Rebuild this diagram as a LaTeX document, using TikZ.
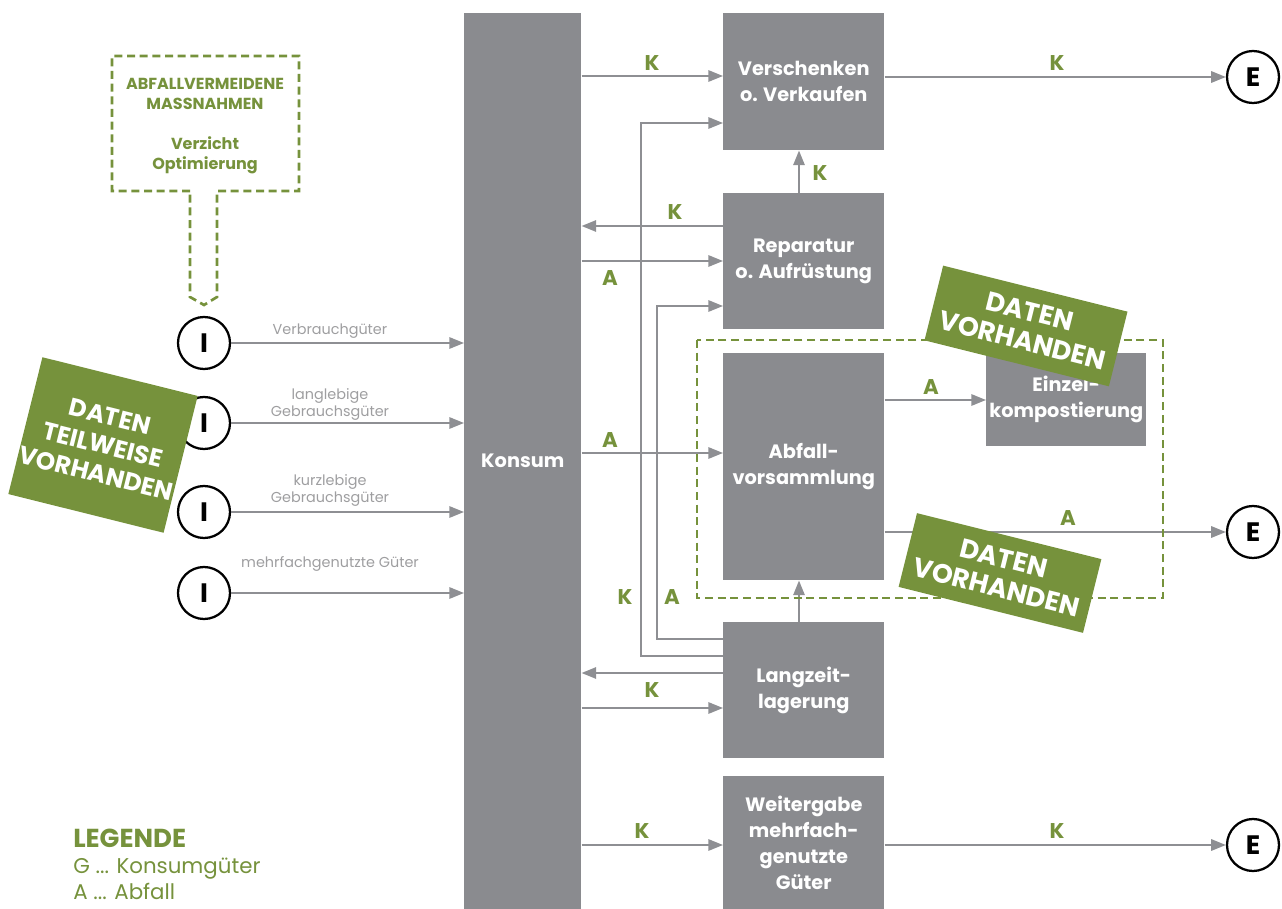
\documentclass[tikz,border=0pt]{standalone}
\usepackage{fontspec}
\setmainfont{Poppins}
\usetikzlibrary{arrows.meta}
\definecolor{olive}{HTML}{76923C}
\definecolor{boxgray}{HTML}{8A8B8F}
\definecolor{linegray}{HTML}{8E8F93}
\definecolor{labelgray}{HTML}{9E9EA0}
\begin{document}
\begin{tikzpicture}[x=0.75pt,y=-0.75pt]
\tikzset{
  procbox/.style={fill=boxgray, text=white, font=\bfseries\fontsize{14.5}{19.5}\selectfont,
    align=center, inner sep=0pt, anchor=north west, minimum width=161*0.75pt},
  flow/.style={draw=linegray, line width=1.5pt, -{Triangle[length=11pt,width=8.5pt]}},
  tag/.style={text=olive, font=\bfseries\fontsize{16}{18}\selectfont, inner sep=0pt},
  endpoint/.style={circle, draw=black, line width=1.7pt, minimum size=52*0.75pt,
    inner sep=0pt, font=\bfseries\fontsize{20}{20}\selectfont},
  inlabel/.style={text=labelgray, font=\fontsize{10.8}{12.75}\selectfont, align=center, inner sep=0pt},
  datatag/.style={fill=olive, text=white, font=\bfseries\fontsize{20}{22.5}\selectfont,
    align=center, inner sep=0pt},
  zone/.style={draw=olive, line width=2.2pt, dash pattern=on 6pt off 3.5pt},
  notetext/.style={text=olive, font=\bfseries\fontsize{12}{15}\selectfont, align=center, inner sep=0pt},
  legend/.style={text=olive, anchor=base west, inner sep=0pt},
}
\useasboundingbox (0,0) rectangle (1282,909);

% central consumption bar
\node[procbox, minimum width=117*0.75pt, minimum height=896*0.75pt] (konsum) at (464,13) {Konsum};

% process boxes
\node[procbox, minimum height=137*0.75pt] (versch) at (723,13) {Verschenken\\o. Verkaufen};
\node[procbox, minimum height=136*0.75pt] (rep) at (723,193) {Reparatur\\o. Aufrüstung};
\node[procbox, minimum height=227*0.75pt] (abf) at (723,353) {Abfall-\\vorsammlung};
\node[procbox, minimum width=160*0.75pt, minimum height=93*0.75pt] (einzel) at (986,353) {Einzel-\\kompostierung};
\node[procbox, minimum height=136*0.75pt] (lang) at (723,622) {Langzeit-\\lagerung};
\node[procbox, minimum height=133*0.75pt] (weiter) at (723,776) {Weitergabe\\mehrfach-\\genutzte\\Güter};

% inputs and exits
\node[endpoint] (i1) at (204,343) {I};
\node[endpoint] (i2) at (204,423) {I};
\node[endpoint] (i3) at (204,512) {I};
\node[endpoint] (i4) at (204,593) {I};
\node[endpoint] (e1) at (1253,77) {E};
\node[endpoint] (e2) at (1253,532) {E};
\node[endpoint] (e3) at (1253,845) {E};

% input flows
\draw[flow] (i1.east) -- (konsum.west |- i1);
\draw[flow] (i2.east) -- (konsum.west |- i2);
\draw[flow] (i3.east) -- (konsum.west |- i3);
\draw[flow] (i4.east) -- (konsum.west |- i4);
\node[inlabel] (l1) at (330,331) {Verbrauchgüter};
\node[inlabel] (l2) at (330,404) {langlebige\\Gebrauchsgüter};
\node[inlabel] (l3) at (330,490) {kurzlebige\\Gebrauchsgüter};
\node[inlabel] (l4) at (330,564) {mehrfachgenutzte Güter};

% flows between consumption and the processes
\draw[flow] (konsum.east |- 0,76) -- (versch.west |- 0,76);
\draw[flow] (versch.east |- e1) -- (e1.west);
\draw[flow] (rep.north -| 799,0) -- (versch.south -| 799,0);
\draw[flow] (rep.west |- 0,226) -- (konsum.east |- 0,226);
\draw[flow] (konsum.east |- 0,261) -- (rep.west |- 0,261);
\draw[flow] (konsum.east |- 0,453) -- (abf.west |- 0,453);
\draw[flow] (abf.east |- 0,400) -- (einzel.west |- 0,400);
\draw[flow] (abf.east |- e2) -- (e2.west);
\draw[flow] (lang.north -| 799,0) -- (abf.south -| 799,0);
\draw[flow] (lang.west |- 0,656) -| (641,123) -- (versch.west |- 0,123);
\draw[flow] (lang.west |- 0,639) -| (657,306) -- (rep.west |- 0,306);
\draw[flow] (lang.west |- 0,673) -- (konsum.east |- 0,673);
\draw[flow] (konsum.east |- 0,708) -- (lang.west |- 0,708);
\draw[flow] (konsum.east |- e3) -- (weiter.west |- e3);
\draw[flow] (weiter.east |- e3) -- (e3.west);

% flow tags
\node[tag] (t1) at (652,63) {K};
\node[tag] (t2) at (1057,63) {K};
\node[tag] (t3) at (820,173) {K};
\node[tag] (t4) at (675,212) {K};
\node[tag] (t5) at (610,278) {A};
\node[tag] (t6) at (610,440) {A};
\node[tag] (t7) at (931,387) {A};
\node[tag] (t8) at (1068,518) {A};
\node[tag] (t9) at (625,597) {K};
\node[tag] (t10) at (672,597) {A};
\node[tag] (t11) at (652,690) {K};
\node[tag] (t12) at (642,831) {K};
\node[tag] (t13) at (1057,831) {K};

% waste collection zone
\draw[zone] (697,340) rectangle (1163,598);

% prevention measures callout
\draw[zone, line width=2pt] (190,191) -- (112,191) -- (112,56) -- (299,56) -- (299,191) -- (217,191)
  -- (217,297) -- (204,305) -- (190,297) -- cycle;
\node[notetext] (n1) at (205,94) {ABFALLVERMEIDENE\\MASSNAHMEN};
\node[notetext] (n2) at (205,155) {Verzicht\\Optimierung};

% data availability tags
\node[datatag, minimum width=160*0.75pt, minimum height=141*0.75pt, rotate=-14, font=\bfseries\fontsize{18.5}{22}\selectfont] (dA) at (103,445) {DATEN\\TEILWEISE\\VORHANDEN};
\node[datatag, minimum width=190*0.75pt, minimum height=77*0.75pt, rotate=-14] (dB) at (1026,326) {DATEN\\VORHANDEN};
\node[datatag, minimum width=190*0.75pt, minimum height=76*0.75pt, rotate=-14] (dC) at (1000,573) {DATEN\\VORHANDEN};

% legend
\node[legend, font=\bfseries\fontsize{19.5}{20}\selectfont] (lg) at (73,847) {LEGENDE};
\node[legend, font=\fontsize{16}{17}\selectfont] (lgG) at (73,873) {G ... Konsumgüter};
\node[legend, font=\fontsize{16}{17}\selectfont] (lgA) at (73,899) {A ... Abfall};
\end{tikzpicture}
\end{document}
